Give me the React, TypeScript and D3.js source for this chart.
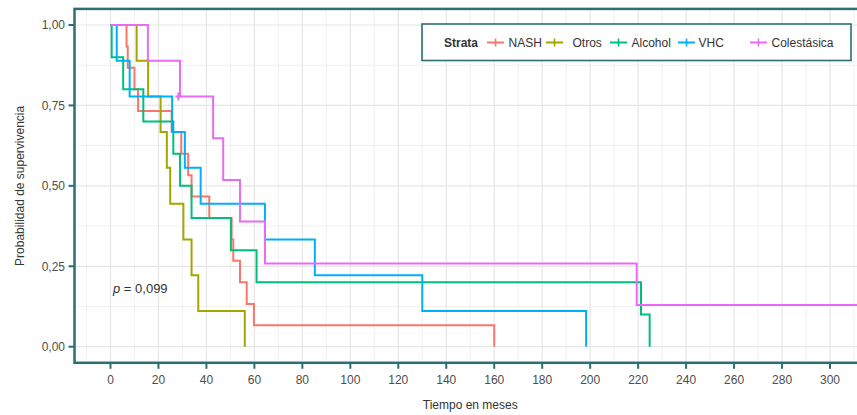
import React from "react";
import * as d3 from "d3";

const strataNames = ["NASH", "Otros", "Alcohol", "VHC", "Colestásica"];
const strataColors = ["#F8766D", "#A3A500", "#00BF7D", "#00B0F6", "#E76BF3"];

const nashTimes = [0, 6.7, 7.2, 10, 11.5, 25.5, 29.5, 32.4, 33.8, 41.2, 50.5, 51.2, 54, 56.8, 59.8, 160];
const nashSurv = [1, 0.933, 0.867, 0.8, 0.733, 0.667, 0.6, 0.533, 0.467, 0.4, 0.333, 0.267, 0.2, 0.133, 0.067, 0];

const otrosTimes = [0, 10.9, 15.7, 20.9, 23.5, 24.9, 30.4, 33.8, 36.6, 56];
const otrosSurv = [1, 0.889, 0.778, 0.667, 0.556, 0.444, 0.333, 0.222, 0.111, 0];

const alcoholTimes = [0, 0.5, 5.3, 13.7, 26.2, 29, 33.8, 50.2, 60.9, 221.2, 224.8];
const alcoholSurv = [1, 0.9, 0.8, 0.7, 0.6, 0.5, 0.4, 0.3, 0.2, 0.1, 0];

const vhcTimes = [0, 2.6, 8, 25.7, 31, 37.6, 64.4, 85.2, 130, 198.3];
const vhcSurv = [1, 0.889, 0.778, 0.667, 0.556, 0.444, 0.333, 0.222, 0.111, 0];

const colTimes = [0, 15.6, 29, 42.8, 47, 54, 64.4, 219.4, 313];
const colSurv = [1, 0.889, 0.778, 0.648, 0.518, 0.389, 0.259, 0.13, 0.13];

const censorTimes = [28.3];
const censorSurv = [0.778];

const xTicks = [0, 20, 40, 60, 80, 100, 120, 140, 160, 180, 200, 220, 240, 260, 280, 300];
const yTicks = [0, 0.25, 0.5, 0.75, 1];
const yTickLabels = ["0,00", "0,25", "0,50", "0,75", "1,00"];
const pText = "0,099";

const W = 857;
const H = 415;
const teal = "#2C6E72";
const FONT = "'Liberation Sans', Arial, sans-serif";

export default function App() {
  const x = d3.scaleLinear().domain([-15, 315]).range([74.5, 866]);
  const y = d3.scaleLinear().domain([-0.05, 1.05]).range([362.8, 8.9]);
  const series = [
    { t: nashTimes, s: nashSurv },
    { t: otrosTimes, s: otrosSurv },
    { t: alcoholTimes, s: alcoholSurv },
    { t: vhcTimes, s: vhcSurv },
    { t: colTimes, s: colSurv },
  ];
  const line = d3
    .line<[number, number]>()
    .x((d) => x(d[0]))
    .y((d) => y(d[1]))
    .curve(d3.curveStepAfter);

  const xMinor = d3.range(-10, 315, 10).filter((v) => v % 20 !== 0);
  const yMinor = [0.125, 0.375, 0.625, 0.875];
  const [px0, px1] = [x(-15), x(315)];
  const [py0, py1] = [y(1.05), y(-0.05)];

  const legendKeys = [
    { k: 487, t: 508.5 },
    { k: 546, t: 572.5 },
    { k: 610, t: 631.5 },
    { k: 678, t: 698.5 },
    { k: 750, t: 771.5 },
  ];
  const legY = 42.5;

  return (
    <svg width={W} height={H} style={{ display: "block", position: "absolute", left: 0, top: 0 }} fontFamily={FONT}>
      <rect x={0} y={0} width={W} height={H} fill="#fff" />
      <defs>
        <clipPath id="panel">
          <rect x={px0} y={py0} width={px1 - px0} height={py1 - py0} />
        </clipPath>
      </defs>
      {/* grid */}
      <g clipPath="url(#panel)">
        {xMinor.map((v) => (
          <line key={"xm" + v} x1={x(v)} x2={x(v)} y1={py0} y2={py1} stroke="#F1F1F1" strokeWidth={1} />
        ))}
        {yMinor.map((v) => (
          <line key={"ym" + v} x1={px0} x2={px1} y1={y(v)} y2={y(v)} stroke="#F1F1F1" strokeWidth={1} />
        ))}
        {xTicks.map((v) => (
          <line key={"xg" + v} x1={x(v)} x2={x(v)} y1={py0} y2={py1} stroke="#E6E6E6" strokeWidth={1.2} />
        ))}
        {yTicks.map((v) => (
          <line key={"yg" + v} x1={px0} x2={px1} y1={y(v)} y2={y(v)} stroke="#E6E6E6" strokeWidth={1.2} />
        ))}
        {series.map((sr, i) => (
          <path
            key={"c" + i}
            d={line(sr.t.map((t, j) => [t, sr.s[j]] as [number, number])) || ""}
            fill="none"
            stroke={strataColors[i]}
            strokeWidth={2}
          />
        ))}
        {censorTimes.map((t, i) => (
          <g key={"cs" + i} stroke={strataColors[4]} strokeWidth={2}>
            <line x1={x(t)} x2={x(t)} y1={y(censorSurv[i]) - 4} y2={y(censorSurv[i]) + 4} />
            <line x1={x(t) - 3} x2={x(t) + 3} y1={y(censorSurv[i])} y2={y(censorSurv[i])} />
          </g>
        ))}
      </g>
      {/* border */}
      <rect x={px0} y={py0} width={px1 - px0} height={py1 - py0} fill="none" stroke={teal} strokeWidth={2.5} />
      {/* axes ticks */}
      {xTicks.map((v) => (
        <g key={"xt" + v}>
          <line x1={x(v)} x2={x(v)} y1={py1} y2={py1 + 6} stroke={teal} strokeWidth={2} />
          <text x={x(v)} y={384} textAnchor="middle" fontSize={12} fill="#4D4D4D">
            {v}
          </text>
        </g>
      ))}
      {yTicks.map((v, i) => (
        <g key={"yt" + v}>
          <line x1={px0 - 6} x2={px0} y1={y(v)} y2={y(v)} stroke={teal} strokeWidth={2} />
          <text x={65} y={y(v) + 4.3} textAnchor="end" fontSize={12} fill="#4D4D4D">
            {yTickLabels[i]}
          </text>
        </g>
      ))}
      <text x={(px0 + px1) / 2} y={409} textAnchor="middle" fontSize={12} fill="#333">
        Tiempo en meses
      </text>
      <text
        transform={`translate(24,${(py0 + py1) / 2}) rotate(-90)`}
        textAnchor="middle"
        fontSize={12}
        fill="#333"
      >
        Probabilidad de supervivencia
      </text>
      <text x={113} y={293} fontSize={13} fill="#333">
        <tspan fontStyle="italic">p</tspan> = {pText}
      </text>
      {/* legend */}
      <rect x={422} y={24} width={429} height={36.5} fill="#fff" stroke={teal} strokeWidth={1.6} />
      <text x={444} y={legY + 4.3} fontSize={12} fontWeight="bold" fill="#333">
        Strata
      </text>
      {legendKeys.map((k, i) => (
        <g key={"lg" + i}>
          <line x1={k.k} x2={k.k + 17} y1={legY} y2={legY} stroke={strataColors[i]} strokeWidth={2} />
          <line x1={k.k + 8.5} x2={k.k + 8.5} y1={legY - 4} y2={legY + 4} stroke={strataColors[i]} strokeWidth={1.6} />
          <text x={k.t} y={legY + 4.3} fontSize={12} fill="#333">
            {strataNames[i]}
          </text>
        </g>
      ))}
    </svg>
  );
}
